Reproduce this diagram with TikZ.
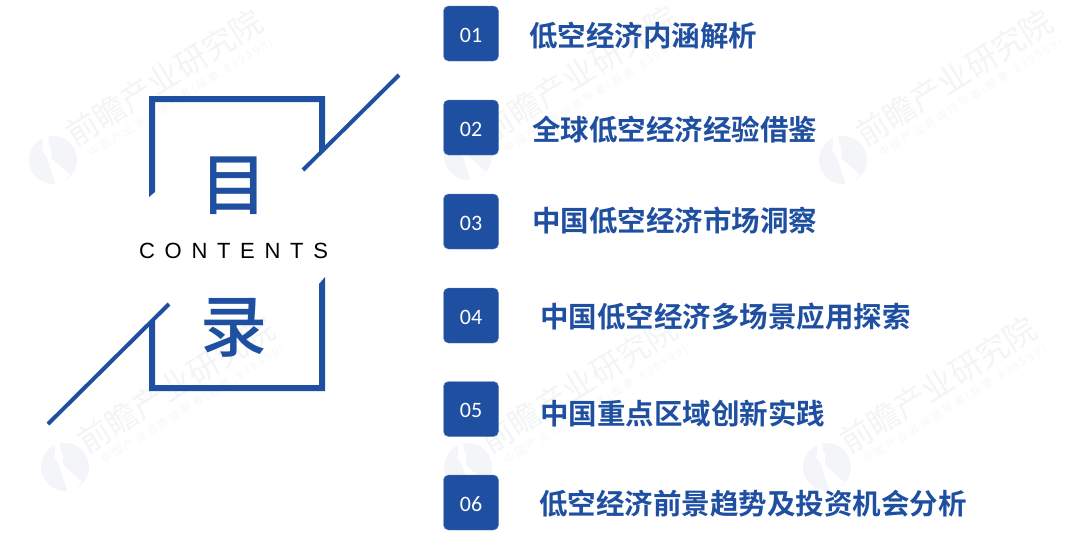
\documentclass[tikz,border=0pt]{standalone}
\usepackage{fontspec}
\setmainfont{Liberation Sans}
\newfontfamily\cjkbold{Noto Sans CJK SC Bold}
\newfontfamily\cjkplain{Noto Sans CJK SC}
\newfontfamily\cjkmedium{Noto Sans CJK SC Medium}
\newfontfamily\latinwide[LetterSpace=44]{Liberation Sans}
\newfontfamily\stampsmall[LetterSpace=22]{Noto Sans CJK SC}
\newfontfamily\numfont{Carlito}
\definecolor{tocblue}{HTML}{1F4FA0}
\definecolor{stampgrey}{HTML}{F3F4F5}
\definecolor{stampsub}{HTML}{F6F6F7}
\definecolor{stampdisc}{HTML}{F3F5F8}
\tikzset{
    numbox/.style={fill=tocblue,draw=tocblue!70!white,line width=0.4pt,rounded corners=5pt,minimum width=55pt,minimum height=55pt,inner sep=0pt,text=white,text height=17pt,text depth=0pt,font=\numfont\fontsize{22}{22}\selectfont},
    tocitem/.style={anchor=west,inner sep=0pt,text=tocblue,font=\cjkbold\fontsize{28.5}{28.5}\selectfont},
    bigchar/.style={inner sep=0pt,text=tocblue,font=\cjkmedium\fontsize{67}{67}\selectfont},
    pics/stamp/.style={code={
        \fill[stampdisc] (0,0) circle (24);
        \fill[white] (-10,-25) -- (-5,-25) -- (-4,-16) -- (-2,-13) -- (-2,-2) -- (17,15) -- (8,25) -- (3,25) -- (-7,-5) -- (-11,-9) -- (-10,-13) -- cycle;
        \node[rotate=32,inner sep=0pt,text=stampgrey,font=\cjkplain\fontsize{32}{32}\selectfont] (-title) at (111,-82) {前瞻产业研究院};
        \node[rotate=32,inner sep=0pt,text=stampsub,font=\stampsmall\fontsize{11}{11}\selectfont] (-sub) at (128,-62) {中国产业咨询领导者(股票:839599)};
    }}
}
\begin{document}
\begin{tikzpicture}[x=1pt,y=-1pt]
    \useasboundingbox (0,0) rectangle (1084,552);
    % faint marks behind everything
    \pic (stampA) at (53,160) {stamp};
    \pic (stampB) at (468,156) {stamp};
    \pic (stampC) at (843,160) {stamp};
    \pic (stampD) at (65,467) {stamp};
    \pic (stampE) at (468,467) {stamp};
    \pic (stampF) at (827,467) {stamp};
    % left panel
    \fill[tocblue] (149,197) -- (149,96) -- (325,96) -- (325,148) -- (319,154) -- (319,102) -- (155,102) -- (155,192) -- cycle;
    \fill[tocblue] (149,324) -- (149,391) -- (325,391) -- (325,277) -- (319,284) -- (319,385) -- (155,385) -- (155,318) -- cycle;
    \coordinate (slashAtop) at (399,75);
    \coordinate (slashAend) at (303,170);
    \coordinate (slashBtop) at (169,304);
    \coordinate (slashBend) at (48,424);
    \draw[tocblue,line width=4pt] (slashAtop) -- (slashAend);
    \draw[tocblue,line width=4pt] (slashBtop) -- (slashBend);
    \node[bigchar] (mu) at (234,186) {目};
    \node[anchor=west,inner sep=0pt,font=\latinwide\fontsize{22}{22}\selectfont] (contents) at (139,251) {CONTENTS};
    \node[bigchar] (lu) at (234,328) {录};
    % numbered items
    \foreach \n/\cy in {01/33.5,02/127.5,03/221.5,04/315.5,05/409,06/502.5}
        \node[numbox] (box\n) at (471,\cy) {\n\hspace{2pt}};
    \node[tocitem] (item1) at (529,35.5) {低空经济内涵解析};
    \node[tocitem] (item2) at (532,129.5) {全球低空经济经验借鉴};
    \node[tocitem] (item3) at (532,220.5) {中国低空经济市场洞察};
    \node[tocitem] (item4) at (540,316.5) {中国低空经济多场景应用探索};
    \node[tocitem] (item5) at (540,413) {中国重点区域创新实践};
    \node[tocitem] (item6) at (539,504) {低空经济前景趋势及投资机会分析};
\end{tikzpicture}
\end{document}
